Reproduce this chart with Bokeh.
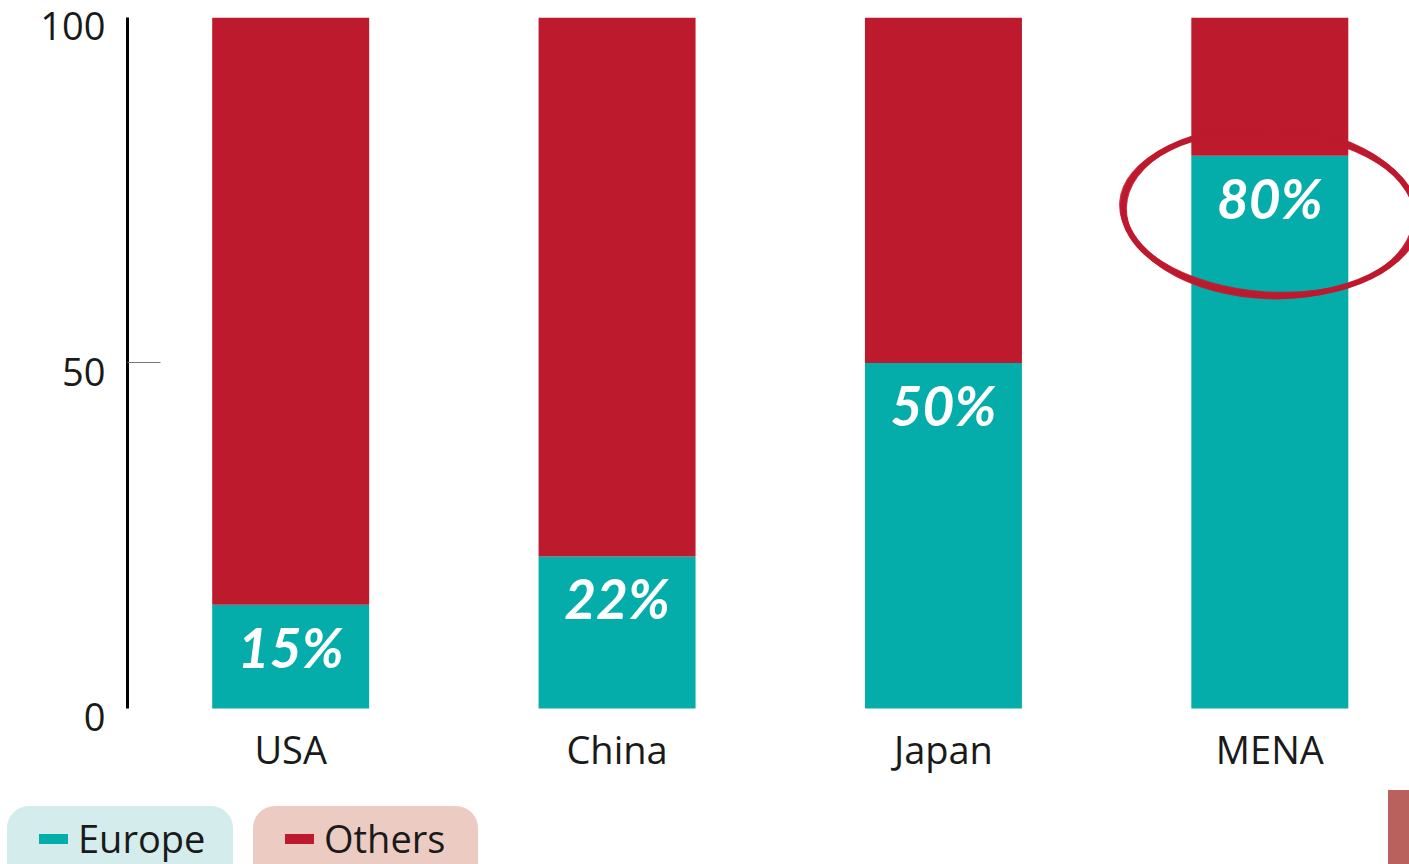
from bokeh.plotting import figure
from bokeh.layouts import column
from bokeh.models import (Range1d, LinearAxis, FixedTicker, ColumnDataSource, Div)
from bokeh.core.properties import value
from bokeh.embed import file_html
from bokeh.resources import INLINE

# ---- data ----
categories = ["USA", "China", "Japan", "MENA"]
europe = [15, 22, 50, 80]
others = [100 - v for v in europe]
europe_labels = ["15%", "22%", "50%", "80%"]
y_ticks = [0, 50, 100]
y_tick_labels = ["0", "50", "100"]
series = ["Europe", "Others"]
highlight = "MENA"

TEAL = "#04ADA9"
RED = "#BE1A2E"
FONT = "Open Sans"
TXT = "#1a1a1a"

W = 1409
H_MAIN = 790
H_LEG = 74

p = figure(width=W, height=H_MAIN, output_backend="svg", toolbar_location=None,
           x_range=Range1d(0, 3.928), y_range=Range1d(-3.04, 100),
           x_axis_location=None, y_axis_location=None,
           min_border_left=127, min_border_right=0, min_border_top=17,
           min_border_bottom=61)
p.outline_line_color = None
p.xgrid.visible = False
p.ygrid.visible = False
p.background_fill_color = "white"
p.border_fill_color = "white"

xpos = [i + 0.5 for i in range(len(categories))]
src = ColumnDataSource(dict(x=xpos, cat=categories, europe=europe,
                            others=others, lab=europe_labels))
p.vbar_stack(["europe", "others"], x="x", width=0.481, color=[TEAL, RED],
             line_color=None, source=src)

p.text(x="x", y="europe", text="lab", source=src, text_color="white",
       text_font=value("Lato"), text_font_style="bold italic",
       text_font_size="55px", text_align="center", text_baseline="middle",
       y_offset=42)

# highlight ellipse (sketchy look: a few overlapping strokes)
hi = categories.index(highlight)
hx = xpos[hi]
hy = europe[hi] - 8.2
for w, h, a, lw, al in [(294, 166, -0.055, 6, 1.0), (289, 171, -0.035, 3, 0.9),
                        (299, 161, -0.07, 3, 0.85), (292, 168, -0.045, 2, 0.7)]:
    p.ellipse(x=[hx], y=[hy], width=w, height=h, width_units="screen",
              height_units="screen", angle=a, fill_color=None,
              line_color=RED, line_width=lw, line_alpha=al)

# y axis: line + tick at 50
yaxis = LinearAxis(ticker=FixedTicker(ticks=[50]), bounds=(0, 100),
                   axis_line_color="black", axis_line_width=3,
                   major_tick_in=33, major_tick_out=0,
                   major_tick_line_color="#777777", major_tick_line_width=1,
                   minor_tick_line_color=None, major_label_overrides={50: ""},
                   major_label_standoff=0)
p.add_layout(yaxis, "left")

# y labels (sit slightly below their tick positions)
shift = 1.30
p.extra_y_ranges = {"lab": Range1d(-3.04 + shift, 100 + shift)}
lab_axis = LinearAxis(y_range_name="lab", ticker=FixedTicker(ticks=y_ticks),
                      major_label_overrides={t: l for t, l in zip(y_ticks, y_tick_labels)},
                      axis_line_color=None, major_tick_line_color=None,
                      minor_tick_line_color=None, major_tick_in=0, major_tick_out=0,
                      major_label_text_font=FONT, major_label_text_font_size="38px",
                      major_label_text_color=TXT, major_label_standoff=22)
p.add_layout(lab_axis, "left")

# x axis
xaxis = LinearAxis(ticker=FixedTicker(ticks=xpos),
                   major_label_overrides={x: c for x, c in zip(xpos, categories)},
                   axis_line_color=None, major_tick_line_color=None,
                   minor_tick_line_color=None, major_tick_in=0, major_tick_out=0,
                   major_label_text_font=FONT, major_label_text_font_size="38px",
                   major_label_text_color=TXT, major_label_standoff=-7)
p.add_layout(xaxis, "below")

# ---- legend strip (HTML) ----
leg = [
    (series[0], TEAL, "#D4ECEB", 7, 226),
    (series[1], RED, "#ECCBC3", 253, 225),
]
items = []
for name, col, bg, left, width in leg:
    items.append(
        f'<div style="position:absolute;left:{left}px;top:16px;width:{width}px;'
        f'height:80px;background:{bg};border-radius:22px;"></div>'
        f'<div style="position:absolute;left:{left + 32}px;top:44px;width:29px;'
        f'height:10px;background:{col};"></div>'
        f'<div style="position:absolute;left:{left + 71}px;top:29px;line-height:38px;'
        f"font-family:'{FONT}';font-size:38px;color:{TXT};white-space:nowrap;\">{name}</div>"
    )
items.append('<div style="position:absolute;left:1388px;top:0px;width:21px;'
              'height:74px;background:#B9625D;"></div>')
html = (f'<div style="position:relative;width:{W}px;height:{H_LEG}px;'
        f'overflow:hidden;background:white;">' + "".join(items) + "</div>")
leg_div = Div(text=html, width=W, height=H_LEG, margin=(0, 0, 0, 0))

layout = column(p, leg_div, spacing=0)
open("out.html", "w").write(file_html(layout, INLINE))
